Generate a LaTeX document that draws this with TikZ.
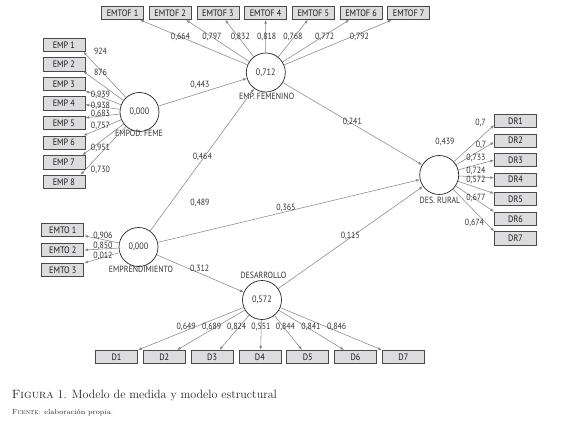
\documentclass[tikz,border=0pt]{standalone}
\usepackage{fontspec}
\newfontfamily\lab[FakeStretch=0.88]{PT Sans}
\usetikzlibrary{arrows.meta}
\definecolor{boxfill}{HTML}{DCDCDE}
\definecolor{boxline}{HTML}{4A4A4A}
\definecolor{linec}{HTML}{888888}
\definecolor{txt}{HTML}{333333}
\tikzset{
  ind/.style={draw=boxline, fill=boxfill, line width=0.8pt, minimum width=42pt, minimum height=13.3pt, inner sep=0pt, font=\lab\fontsize{9.3}{10}\selectfont, text=black!90},
  lat/.style={circle, draw=black!85, fill=white, line width=0.7pt, minimum size=39pt, inner sep=0pt, font=\lab\fontsize{9.3}{10}\selectfont, text=txt},
  val/.style={inner sep=0.3pt, font=\lab\fontsize{9}{10}\selectfont, text=txt},
  conn/.style={draw=linec, line width=0.55pt, -{Latex[length=3.8pt,width=2.8pt]}},
}
\begin{document}
\begin{tikzpicture}[x=1pt,y=-1pt]
\useasboundingbox[fill=white] (0,0) rectangle (580,428);
% latent variables
\node[lat] (feme)  at (139.5,112) {0,000};
\node[lat] (fem)   at (265.8,72.5) {0,712};
\node[lat] (rural) at (439.2,175) {};
\node[lat] (empr)  at (138.5,247) {0,000};
\node[lat] (des)   at (262,300) {0,572};
\node[val] (lfeme)  at (139,133.3) {EMPOD. FEME};
\node[val] (lfem)   at (266.7,96.7) {EMP. FEMENINO};
\node[val] (lrural) at (440,200.7) {DES. RURAL};
\node[val] (lempr)  at (141,269.5) {EMPRENDIMIENTO};
\node[val] (ldes)   at (263.3,275.7) {DESARROLLO};
% indicators EMP
\foreach \i in {1,...,8}{
  \node[ind] (emp\i) at (63.9,{44.7+19.6*(\i-1)}) {EMP \i};
}
\foreach \i in {1,...,7}{
  \node[ind] (emtof\i) at ({122.5+47.7*(\i-1)},12.8) {EMTOF \i};
  \node[ind] (dr\i) at (515.5,{121+19.55*(\i-1)}) {DR\i};
  \node[ind] (d\i) at ({116.5+47.8*(\i-1)},357) {D\i};
}
\foreach \i in {1,2,3}{
  \node[ind] (emto\i) at (62.8,{230+20*(\i-1)}) {EMTO \i};
}
% outer loadings
\draw[conn] (feme) -- (emp1.-20);
\draw[conn] (feme) -- (emp2.-20);
\draw[conn] (feme) -- (emp3.-18);
\draw[conn] (feme) -- (emp4.-3);
\draw[conn] (feme) -- (emp5.14);
\draw[conn] (feme) -- (emp6.20);
\draw[conn] (feme) -- (emp7.21);
\draw[conn] (feme) -- (emp8.23.5);
\draw[conn] (fem) -- (emtof1.-22);
\draw[conn] (fem) -- (emtof2.-24);
\draw[conn] (fem) -- (emtof3.-44);
\draw[conn] (fem) -- (emtof4.-90);
\draw[conn] (fem) -- (emtof5.-128);
\draw[conn] (fem) -- (emtof6.-149);
\draw[conn] (fem) -- (emtof7.-157);
\draw[conn] (rural) -- (dr1.-169);
\draw[conn] (rural) -- (dr2.-176);
\draw[conn] (rural) -- (dr3.180);
\draw[conn] (rural) -- (dr4.175);
\draw[conn] (rural) -- (dr5.165);
\draw[conn] (rural) -- (dr6.north west);
\draw[conn] (rural) -- (dr7.north west);
\draw[conn] (empr) -- (emto1.-15);
\draw[conn] (empr) -- (emto2.east);
\draw[conn] (empr) -- (emto3.north east);
\draw[conn] (des) -- (d1.north east);
\draw[conn] (des) -- (d2.29);
\draw[conn] (des) -- (d3.44);
\draw[conn] (des) -- (d4.84);
\draw[conn] (des) -- (d5.129);
\draw[conn] (des) -- (d6.148);
\draw[conn] (des) -- (d7.north west);
% structural paths
\draw[conn] (feme) -- (fem);
\draw[conn] (empr) -- (fem);
\draw[conn] (empr) -- (rural);
\draw[conn] (empr) -- (des);
\draw[conn] (fem) -- (rural);
\draw[conn] (des) -- (rural);
% loading values
\node[val] at (100.5,51.7) {924};
\node[val] at (100.5,72.7) {876};
\node[val] at (100.5,95) {0,939};
\node[val] at (100.5,105.7) {0,938};
\node[val] at (100.5,114) {0,683};
\node[val] at (100.5,125.7) {0,757};
\node[val] at (100.5,147.7) {0,951};
\node[val] at (100.5,170) {0,730};
\node[val] at (180.5,36.7) {0,664};
\node[val] at (212,36.7) {0,797};
\node[val] at (240.3,36.7) {0,832};
\node[val] at (266.7,36.7) {0,818};
\node[val] at (293,36.7) {0,768};
\node[val] at (324.7,36.7) {0,772};
\node[val] at (359.5,36.7) {0,792};
\node[val] at (480.5,123) {0,7};
\node[val] at (481,144.5) {0,7};
\node[val] at (476,157.7) {0,733};
\node[val] at (476,171) {0,724};
\node[val] at (476,179.5) {0,572};
\node[val] at (476,198) {0,677};
\node[val] at (474.5,223.3) {0,674};
\node[val] at (445,141.5) {0,439};
\node[val] at (103,235.7) {0,906};
\node[val] at (103,246) {0,850};
\node[val] at (103,255.7) {0,012};
\node[val] at (186.2,327) {0,649};
\node[val] at (211.7,327) {0,689};
\node[val] at (236.7,327) {0,824};
\node[val] at (261,327) {0,551};
\node[val] at (285.5,327) {0,844};
\node[val] at (311,327) {0,841};
\node[val] at (336.7,327) {0,846};
% path values
\node[val] at (200,85) {0,443};
\node[val] at (202.3,157.3) {0,464};
\node[val] at (200,202.7) {0,489};
\node[val] at (286,208.3) {0,365};
\node[val] at (199.7,269.3) {0,312};
\node[val] at (352.3,122.3) {0,241};
\node[val] at (350.3,236) {0,115};
% caption
\node[anchor=west, inner sep=0pt, text=black!85, font=\fontsize{12}{14}\selectfont] (cap) at (11.7,395.7) {\textsc{Figura} \oldstylenums{1}. Modelo de medida y modelo estructural};
\node[anchor=west, inner sep=0pt, text=black!85, font=\fontsize{7.2}{9}\selectfont] (src) at (12,412.7) {\textsc{Fuente:} elaboración propia.};
\end{tikzpicture}
\end{document}
